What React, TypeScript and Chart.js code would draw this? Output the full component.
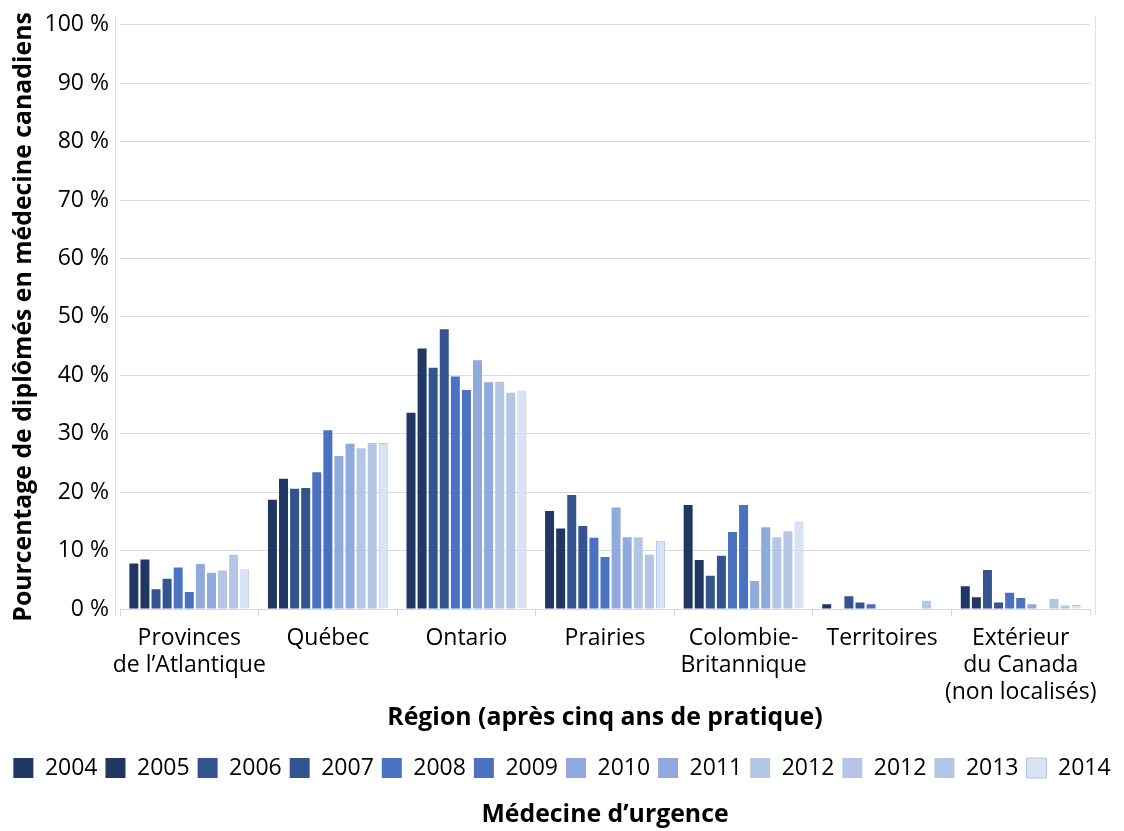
import React, { useEffect, useRef } from 'react';
import { Chart, registerables } from 'chart.js';

Chart.register(...registerables);

const FONT = "'Open Sans', 'Noto Sans', sans-serif";

const categories: (string | string[])[] = [
  ['Provinces', 'de l’Atlantique'],
  'Québec',
  'Ontario',
  'Prairies',
  ['Colombie-', 'Britannique'],
  'Territoires',
  ['Extérieur', 'du Canada', '(non localisés)'],
];

const seriesLabels = ['2004', '2005', '2006', '2007', '2008', '2009', '2010', '2011', '2012', '2012', '2013', '2014'];

const v2004 = [7.8, 18.7, 33.6, 16.8, 17.8, 0.8, 3.9];
const v2005 = [8.5, 22.3, 44.6, 13.8, 8.4, 0, 2.0];
const v2006 = [3.4, 20.6, 41.3, 19.5, 5.7, 2.2, 6.7];
const v2007 = [5.2, 20.7, 47.9, 14.2, 9.1, 1.1, 1.1];
const v2008 = [7.1, 23.4, 39.8, 12.2, 13.2, 0.8, 2.8];
const v2009 = [2.9, 30.6, 37.5, 8.9, 17.8, 0, 1.9];
const v2010 = [7.7, 26.2, 42.6, 17.4, 4.8, 0, 0.8];
const v2011 = [6.2, 28.3, 38.8, 12.3, 14.0, 0, 0];
const v2012 = [6.6, 27.5, 38.9, 12.3, 12.3, 0, 1.7];
const v2012b: (number | null)[] = [null, null, null, null, null, null, null];
const v2013 = [9.3, 28.4, 37.0, 9.3, 13.3, 1.4, 0.6];
const v2014 = [6.8, 28.4, 37.4, 11.7, 15.0, 0, 0.7];

const seriesValues = [v2004, v2005, v2006, v2007, v2008, v2009, v2010, v2011, v2012, v2012b, v2013, v2014];

const seriesColors = [
  '#213763', '#213763', '#33548f', '#33548f', '#4a72c1', '#4a72c1',
  '#8faadb', '#8faadb', '#b4c6e6', '#b4c6e6', '#b4c6e6', '#dae3f3',
];
const seriesBorders = [
  '#213763', '#213763', '#33548f', '#33548f', '#4a72c1', '#4a72c1',
  '#8faadb', '#8faadb', '#b4c6e6', '#b4c6e6', '#b4c6e6', '#b4c6e6',
];

const yMax = 100;
const yStep = 10;

const framePlugin = {
  id: 'frame',
  beforeDraw(chart: any) {
    const { ctx, chartArea: a, width, height } = chart;
    ctx.save();
    ctx.fillStyle = '#ffffff';
    ctx.fillRect(0, 0, width, height);
    ctx.strokeStyle = '#e2e2e2';
    ctx.lineWidth = 1;
    ctx.beginPath();
    ctx.moveTo(Math.round(a.left) - 4.5, a.top - 9);
    ctx.lineTo(Math.round(a.left) - 4.5, a.bottom + 6);
    ctx.moveTo(Math.round(a.right) + 5.5, a.top - 9);
    ctx.lineTo(Math.round(a.right) + 5.5, a.bottom + 6);
    ctx.stroke();
    ctx.restore();
  },
};

export default function App() {
  const ref = useRef<HTMLCanvasElement | null>(null);

  useEffect(() => {
    document.body.style.margin = '0';
    if (!ref.current) return;
    const datasets = seriesLabels.map((label, i) => ({
      label,
      data: seriesValues[i],
      backgroundColor: seriesColors[i],
      borderColor: seriesBorders[i],
      borderWidth: i === 11 ? 1 : 0,
      grouped: i !== 9,
      barPercentage: 0.81,
      categoryPercentage: 0.88,
    }));
    const chart = new Chart(ref.current, {
      type: 'bar',
      data: { labels: categories as any, datasets: datasets as any },
      plugins: [framePlugin],
      options: {
        animation: false,
        responsive: false,
        maintainAspectRatio: false,
        layout: { padding: { top: 24, right: 0, left: 0, bottom: 0 } },
        plugins: {
          legend: {
            position: 'bottom',
            labels: {
              boxWidth: 20,
              boxHeight: 20,
              padding: 8,
              color: '#000',
              font: { family: FONT, size: 23 },
            },
          },
          title: {
            display: true,
            position: 'bottom',
            fullSize: false,
            text: 'Médecine d’urgence',
            color: '#000',
            font: { family: FONT, size: 24.8, weight: 'bold', lineHeight: 1.2 },
            padding: { top: 10.7, bottom: 1 },
          },
          tooltip: { enabled: false },
        },
        scales: {
          x: {
            offset: true,
            grid: {
              offset: true,
              drawOnChartArea: false,
              drawTicks: true,
              tickLength: 7,
              color: '#d9d9d9',
            },
            border: { display: true, color: '#d9d9d9' },
            ticks: {
              autoSkip: false,
              maxRotation: 0,
              minRotation: 0,
              padding: 9,
              color: '#000',
              font: { family: FONT, size: 23, lineHeight: 1.17 },
            },
            title: {
              display: true,
              text: 'Région (après cinq ans de pratique)',
              color: '#000',
              font: { family: FONT, size: 24.8, weight: 'bold', lineHeight: 1.2 },
              padding: { top: 0, bottom: 15.6 },
            },
            afterFit: (s: any) => {
              s.height = 139.5;
            },
          },
          y: {
            min: 0,
            max: yMax,
            grid: { color: '#d9d9d9', drawTicks: false },
            border: { display: false },
            ticks: {
              stepSize: yStep,
              padding: 11,
              color: '#000',
              font: { family: FONT, size: 23 },
              callback: (v: any) => `${v}\u00A0%`,
            },
            title: {
              display: true,
              text: 'Pourcentage de diplômés en médecine canadiens',
              color: '#000',
              font: { family: FONT, size: 24.8, weight: 'bold', lineHeight: 1.2 },
              padding: { top: 9, bottom: 0 },
            },
            afterFit: (s: any) => {
              s.width = 120;
            },
          },
          yRight: {
            position: 'right',
            display: true,
            grid: { display: false, drawTicks: false },
            border: { display: false },
            ticks: { display: false },
            afterFit: (s: any) => {
              s.width = 34;
            },
          },
        },
      } as any,
    });
    return () => chart.destroy();
  }, []);

  return (
    <div style={{ width: 1124, height: 831 }}>
      <canvas ref={ref} width={1124} height={831} style={{ display: 'block' }} />
    </div>
  );
}
